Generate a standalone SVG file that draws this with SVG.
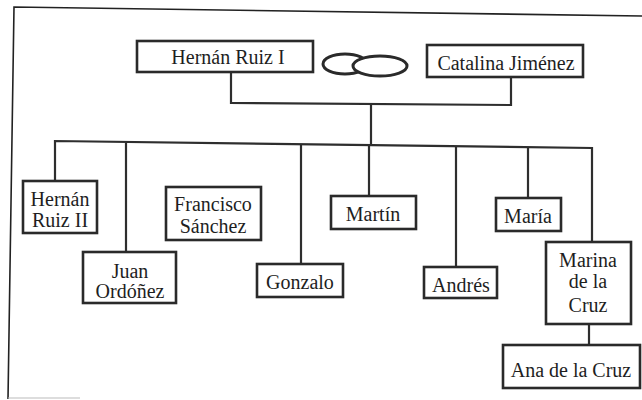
<svg xmlns="http://www.w3.org/2000/svg" width="642" height="400" viewBox="0 0 642 400">
<style>
.box{fill:#fff;stroke:#2a2a2a;stroke-width:2.6}
.t{font-family:"Liberation Serif","Times New Roman",serif;font-size:20px;fill:#1e1e1e;text-anchor:middle}
.c{fill:none;stroke:#2e2e2e;stroke-width:2.2}
.ring{fill:#fff;stroke:#2a2a2a;stroke-width:3}
.frame{fill:none;stroke:#222;stroke-width:1.6}
</style>
<rect width="642" height="400" fill="#fff"/>
<g id="frame">
<path class="frame" d="M642 16 L14 7 L8 399"/>
<path d="M8 398 L80 398" stroke="#bbb" stroke-width="1" fill="none"/>
</g>
<g id="connectors">
<path class="c" d="M231 72 V103 L511 105 V77"/>
<path class="c" d="M371 104 V145"/>
<path class="c" d="M55 181 V141 L592 148 V242"/>
<path class="c" d="M126 143 V252"/>
<path class="c" d="M301 144 V264"/>
<path class="c" d="M369 145 V196"/>
<path class="c" d="M456 146 V267"/>
<path class="c" d="M528 147 V198"/>
<path class="c" d="M589 323 V345"/>
</g>
<g id="rings">
<ellipse class="ring" cx="345" cy="64" rx="22" ry="10"/>
<ellipse class="ring" cx="380" cy="66" rx="27" ry="10"/>
</g>
<g id="hernan-ruiz-i">
<rect class="box" x="137" y="41" width="176" height="31"/>
<text class="t" x="228" y="64">Hernán Ruiz I</text>
</g>
<g id="catalina-jimenez">
<rect class="box" x="427" y="45" width="156" height="32"/>
<text class="t" x="506" y="70">Catalina Jiménez</text>
</g>
<g id="hernan-ruiz-ii">
<rect class="box" x="23" y="181" width="74" height="52"/>
<text class="t" x="60" y="206">Hernán</text>
<text class="t" x="60" y="227">Ruiz II</text>
</g>
<g id="juan-ordonez">
<rect class="box" x="83" y="252" width="93" height="51"/>
<text class="t" x="130" y="278">Juan</text>
<text class="t" x="130" y="298">Ordóñez</text>
</g>
<g id="francisco-sanchez">
<rect class="box" x="166" y="187" width="95" height="53"/>
<text class="t" x="213" y="211">Francisco</text>
<text class="t" x="213" y="233">Sánchez</text>
</g>
<g id="gonzalo">
<rect class="box" x="257" y="264" width="86" height="33"/>
<text class="t" x="300" y="289">Gonzalo</text>
</g>
<g id="martin">
<rect class="box" x="331" y="196" width="85" height="33"/>
<text class="t" x="373" y="221">Martín</text>
</g>
<g id="andres">
<rect class="box" x="424" y="267" width="73" height="31"/>
<text class="t" x="461" y="292">Andrés</text>
</g>
<g id="maria">
<rect class="box" x="496" y="198" width="65" height="33"/>
<text class="t" x="528" y="223">María</text>
</g>
<g id="marina-de-la-cruz">
<rect class="box" x="546" y="242" width="85" height="82"/>
<text class="t" x="588" y="267">Marina</text>
<text class="t" x="588" y="288">de la</text>
<text class="t" x="588" y="312">Cruz</text>
</g>
<g id="ana-de-la-cruz">
<rect class="box" x="503" y="345" width="137" height="43"/>
<text class="t" x="571" y="377">Ana de la Cruz</text>
</g>
</svg>
